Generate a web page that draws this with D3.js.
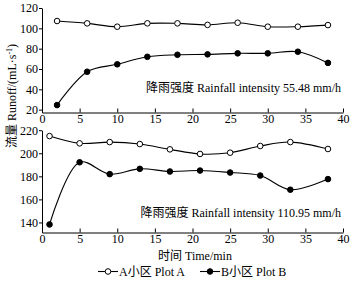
<!DOCTYPE html>
<html>
<head>
<meta charset="utf-8">
<script src="https://cdn.jsdelivr.net/npm/d3@7/dist/d3.min.js"></script>
<style>
  body { margin: 0; background: #fff; }
  svg { display: block; font-family: "Liberation Serif", "Noto Sans CJK SC", serif; }
  .axis path, .axis line { stroke: #000; stroke-width: 1; }
  .axis text { font-size: 12px; fill: #000; font-family: "Liberation Serif", serif; }
</style>
</head>
<body>
<svg id="chart" width="356" height="283"></svg>
<script>
// datos
const xTicks = [0, 5, 10, 15, 20, 25, 30, 35, 40];

const tiempoArriba = [2, 6, 10, 14, 18, 22, 26, 30, 34, 38];
const arribaA = [107.2, 104.9, 101.6, 104.9, 104.9, 103.4, 105.5, 101.6, 101.6, 103.2];
const arribaB = [24.5, 57.3, 64.6, 72.0, 74.0, 74.4, 75.4, 75.4, 77.0, 66.0];
const ticksArriba = [20, 40, 60, 80, 100, 120];

const tiempoAbajo = [1, 5, 9, 13, 17, 21, 25, 29, 33, 38];
const abajoA = [214.9, 208.6, 209.7, 208.0, 203.4, 199.4, 200.5, 206.3, 209.7, 203.7];
const abajoB = [138.3, 192.2, 181.9, 186.5, 184.2, 185.0, 183.3, 180.7, 168.4, 177.6];
const ticksAbajo = [140, 160, 180, 200, 220];

const svg = d3.select("#chart");

const x = d3.scaleLinear().domain([0, 40]).range([42, 343]);

function panel(cfg) {
  const y = d3.scaleLinear().domain(cfg.dominio).range(cfg.rango);
  const g = svg.append("g");

  g.append("g")
    .attr("class", "axis")
    .attr("transform", `translate(0,${cfg.rango[0]})`)
    .call(d3.axisBottom(x).tickValues(xTicks).tickSizeInner(-4).tickSizeOuter(0).tickPadding(4))
    .call(a => a.selectAll("text").attr("dy", "0.55em"));

  g.append("g")
    .attr("class", "axis")
    .attr("transform", `translate(${x(0)},0)`)
    .call(d3.axisLeft(y).tickValues(cfg.ticks).tickSizeInner(3).tickSizeOuter(0).tickPadding(1));

  const linea = d3.line()
    .x(d => x(d[0]))
    .y(d => y(d[1]))
    .curve(d3.curveCatmullRom.alpha(0.5));

  const series = [
    { valores: cfg.a, relleno: "#fff" },
    { valores: cfg.b, relleno: "#000" }
  ];

  series.forEach(s => {
    const datos = cfg.tiempo.map((t, i) => [t, s.valores[i]]);
    g.append("path")
      .datum(datos)
      .attr("d", linea)
      .attr("fill", "none")
      .attr("stroke", "#000")
      .attr("stroke-width", 1.1);
    g.selectAll(null)
      .data(datos)
      .join("circle")
      .attr("cx", d => x(d[0]))
      .attr("cy", d => y(d[1]))
      .attr("r", 2.8)
      .attr("fill", s.relleno)
      .attr("stroke", "#000")
      .attr("stroke-width", 1);
  });

  g.append("text")
    .attr("x", 341)
    .attr("y", cfg.textoY)
    .attr("text-anchor", "end")
    .attr("font-size", 12)
    .text(cfg.texto);
}

panel({
  dominio: [17.2, 120], rango: [112.5, 8],
  ticks: ticksArriba, tiempo: tiempoArriba, a: arribaA, b: arribaB,
  texto: "降雨强度 Rainfall intensity 55.48 mm/h", textoY: 92
});

panel({
  dominio: [131.3, 220], rango: [232.5, 130.2],
  ticks: ticksAbajo, tiempo: tiempoAbajo, a: abajoA, b: abajoB,
  texto: "降雨强度 Rainfall intensity 110.95 mm/h", textoY: 217
});

// titulo eje y
svg.append("text")
  .attr("transform", "translate(16,96) rotate(-90)")
  .attr("text-anchor", "middle")
  .attr("font-size", 12)
  .html('流量 Runoff/(mL·s<tspan dy="-4" font-size="8">-1</tspan><tspan dy="4">)</tspan>');

// titulo eje x
svg.append("text")
  .attr("x", 195)
  .attr("y", 260)
  .attr("text-anchor", "middle")
  .attr("font-size", 12)
  .text("时间 Time/min");

// leyenda
const leyenda = [
  { nombre: "A小区 Plot A", relleno: "#fff", x0: 98 },
  { nombre: "B小区 Plot B", relleno: "#000", x0: 200 }
];
leyenda.forEach(l => {
  svg.append("line")
    .attr("x1", l.x0).attr("x2", l.x0 + 20)
    .attr("y1", 271.5).attr("y2", 271.5)
    .attr("stroke", "#000").attr("stroke-width", 1.1);
  svg.append("circle")
    .attr("cx", l.x0 + 10).attr("cy", 271.5).attr("r", 2.8)
    .attr("fill", l.relleno).attr("stroke", "#000");
  svg.append("text")
    .attr("x", l.x0 + 21).attr("y", 275.5)
    .attr("font-size", 12)
    .text(l.nombre);
});
</script>
</body>
</html>
